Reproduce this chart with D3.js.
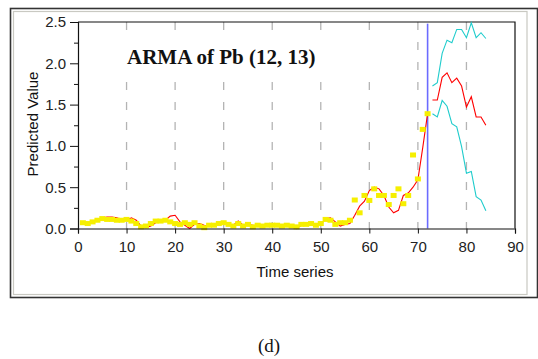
<!DOCTYPE html>
<html>
<head>
<meta charset="utf-8">
<script src="https://cdn.jsdelivr.net/npm/d3@7/dist/d3.min.js"></script>
<style>
  html, body { margin: 0; padding: 0; background: #fff; }
  svg { display: block; }
  .tick text { font-family: "Liberation Sans", Arial, sans-serif; font-size: 15px; fill: #222; }
</style>
</head>
<body>
<svg id="chart" width="538" height="359"></svg>
<script>
// Observed Pb series (t = 1..72)
const actualT = d3.range(1, 73);
const actualValues = [
  0.07, 0.06, 0.08, 0.10, 0.12, 0.11, 0.11, 0.10, 0.10, 0.11,
  0.09, 0.06, 0.02, 0.03, 0.06, 0.09, 0.09, 0.10, 0.08, 0.06,
  0.05, 0.07, 0.05, 0.07, 0.03, 0.01, 0.04, 0.04, 0.06, 0.07,
  0.05, 0.03, 0.06, 0.03, 0.05, 0.02, 0.04, 0.03, 0.04, 0.04,
  0.04, 0.03, 0.04, 0.03, 0.02, 0.05, 0.05, 0.06, 0.04, 0.06,
  0.11, 0.10, 0.05, 0.07, 0.07, 0.10, 0.345, 0.19, 0.40, 0.34,
  0.48, 0.40, 0.40, 0.29, 0.40, 0.48, 0.30, 0.40, 0.89, 0.60,
  1.20, 1.39
];

// ARMA(12,13) fitted values over the same period
const fittedValues = [
  0.07, 0.06, 0.08, 0.11, 0.13, 0.14, 0.14, 0.13, 0.11, 0.10,
  0.13, 0.10, 0.03, 0.01, 0.03, 0.07, 0.09, 0.10, 0.15, 0.16,
  0.08, 0.04, 0.00, 0.05, 0.06, 0.04, 0.03, 0.05, 0.06, 0.07,
  0.05, 0.04, 0.09, 0.04, 0.05, 0.04, 0.03, 0.04, 0.04, 0.05,
  0.03, 0.04, 0.03, 0.04, 0.00, 0.04, 0.05, 0.07, 0.05, 0.05,
  0.12, 0.13, 0.08, 0.03, 0.05, 0.06, 0.16, 0.27, 0.33, 0.46,
  0.50, 0.48, 0.40, 0.26, 0.19, 0.22, 0.40, 0.43, 0.50, 0.59,
  0.98, 1.39
];

// Forecast horizon (t = 73..84) with upper / lower bounds
const forecastT = d3.range(73, 85);
const forecastValues = [1.555, 1.555, 1.83, 1.885, 1.765, 1.82, 1.725, 1.47, 1.595, 1.35, 1.35, 1.25];
const upperValues    = [1.725, 1.765, 2.12, 2.28, 2.25, 2.41, 2.41, 2.31, 2.49, 2.31, 2.37, 2.30];
const lowerValues    = [1.39, 1.35, 1.55, 1.48, 1.27, 1.23, 0.99, 0.67, 0.69, 0.385, 0.345, 0.215];

const forecastStart = 72;
const xTicks = d3.range(0, 91, 10);
const gridTicks = d3.range(10, 81, 10);
const yTicks = [0, 0.5, 1.0, 1.5, 2.0, 2.5];
const yMinorTicks = [0.25, 0.75, 1.25, 1.75, 2.25];

const svg = d3.select("#chart");

// Outer panel frame
svg.append("rect").attr("x", 10.5).attr("y", 8.5).attr("width", 527).attr("height", 289)
  .attr("fill", "#fff").attr("stroke", "#333").attr("stroke-width", 1.6);
svg.append("rect").attr("x", 13.5).attr("y", 11.5).attr("width", 513.5).attr("height", 283)
  .attr("fill", "none").attr("stroke", "#c9c9c2").attr("stroke-width", 1.2);

const x = d3.scaleLinear().domain([0, 90]).range([78, 515]);
const y = d3.scaleLinear().domain([0, 2.5]).range([228.5, 22]);

// Vertical dashed grid
svg.append("g").selectAll("line").data(gridTicks).join("line")
  .attr("x1", d => x(d)).attr("x2", d => x(d))
  .attr("y1", y(2.5)).attr("y2", y(0))
  .attr("stroke", "#b4b4b4").attr("stroke-width", 1.3)
  .attr("stroke-dasharray", "8,12");

// Title with its own white backing
svg.append("rect").attr("x", 110).attr("y", 36).attr("width", 285).attr("height", 40).attr("fill", "#fff");
svg.append("text").attr("x", 127).attr("y", 63.5)
  .attr("font-family", "'Liberation Serif', 'Times New Roman', serif")
  .attr("font-weight", "bold").attr("font-size", 21).attr("fill", "#111")
  .text("ARMA of Pb (12, 13)");

// Plot frame (top and right)
svg.append("path")
  .attr("d", `M${x(0)},${y(2.5)}H${x(90)}V${y(0)}`)
  .attr("fill", "none").attr("stroke", "#111").attr("stroke-width", 1.2);

// Forecast origin marker
svg.append("line")
  .attr("x1", x(forecastStart)).attr("x2", x(forecastStart))
  .attr("y1", y(2.48)).attr("y2", y(0))
  .attr("stroke", "#6b6bff").attr("stroke-width", 1.6);

const line = d3.line().x(d => x(d[0])).y(d => y(d[1]));

// Fitted series
svg.append("path")
  .datum(actualT.map((t, i) => [t, fittedValues[i]]))
  .attr("d", line).attr("fill", "none").attr("stroke", "#ff0000").attr("stroke-width", 1.1);

// Forecast and bounds
svg.append("path")
  .datum(forecastT.map((t, i) => [t, forecastValues[i]]))
  .attr("d", line).attr("fill", "none").attr("stroke", "#ff0000").attr("stroke-width", 1.1);
[upperValues, lowerValues].forEach(vals => {
  svg.append("path")
    .datum(forecastT.map((t, i) => [t, vals[i]]))
    .attr("d", line).attr("fill", "none").attr("stroke", "#1fcccc").attr("stroke-width", 1.1);
});

// Observed points
svg.append("g").selectAll("rect").data(actualT.map((t, i) => [t, actualValues[i]])).join("rect")
  .attr("x", d => x(d[0]) - 3).attr("y", d => y(d[1]) - 2.5)
  .attr("width", 6).attr("height", 5)
  .attr("fill", "#f6ef00");

// Axes
const xAxis = svg.append("g").attr("transform", `translate(0,${y(0)})`)
  .call(d3.axisBottom(x).tickValues(xTicks).tickSize(5).tickPadding(8).tickFormat(d3.format("d")));
const yAxis = svg.append("g").attr("transform", `translate(${x(0)},0)`)
  .call(d3.axisLeft(y).tickValues(yTicks).tickSize(8).tickPadding(4).tickFormat(d3.format(".1f")));
svg.append("g").attr("transform", `translate(${x(0)},0)`)
  .call(d3.axisLeft(y).tickValues(yMinorTicks).tickSize(4).tickFormat(""))
  .call(g => g.select(".domain").remove());
[xAxis, yAxis].forEach(g => {
  g.select(".domain").attr("stroke", "#111").attr("stroke-width", 1.2);
  g.selectAll(".tick line").attr("stroke", "#111");
});
svg.selectAll(".tick line").attr("stroke", "#111");

// Axis titles
svg.append("text").attr("x", 295).attr("y", 277)
  .attr("text-anchor", "middle")
  .attr("font-family", "'Liberation Sans', Arial, sans-serif").attr("font-size", 15).attr("fill", "#111")
  .text("Time series");
svg.append("text")
  .attr("transform", `translate(38,124) rotate(-90)`)
  .attr("text-anchor", "middle")
  .attr("font-family", "'Liberation Sans', Arial, sans-serif").attr("font-size", 15).attr("fill", "#111")
  .text("Predicted Value");

// Panel caption
svg.append("text").attr("x", 269).attr("y", 352)
  .attr("text-anchor", "middle")
  .attr("font-family", "'Liberation Serif', 'Times New Roman', serif").attr("font-size", 19).attr("fill", "#111")
  .text("(d)");
</script>
</body>
</html>
